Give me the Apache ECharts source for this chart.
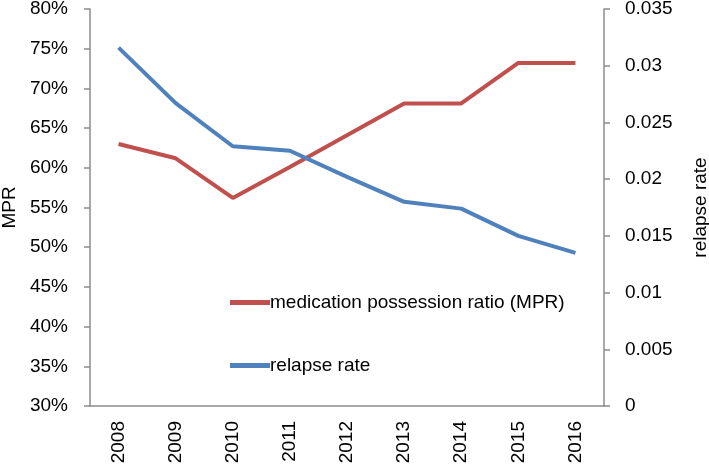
<!DOCTYPE html>
<html>
<head>
<meta charset="utf-8">
<script src="https://cdn.jsdelivr.net/npm/echarts@6/dist/echarts.min.js"></script>
<style>
  html, body { margin: 0; padding: 0; background: #fff; }
  #chart { width: 709px; height: 464px; }
</style>
</head>
<body>
<div id="chart"></div>
<script>
const years = ['2008', '2009', '2010', '2011', '2012', '2013', '2014', '2015', '2016']
const mprValues = [0.63, 0.612, 0.562, 0.601, 0.641, 0.681, 0.681, 0.732, 0.732]
const relapseValues = [0.0316, 0.0267, 0.0229, 0.0225, 0.0202, 0.0180, 0.0174, 0.0150, 0.0135]

const axisColor = '#8c8c8c'
const font = 'Liberation Sans, Arial, sans-serif'
const fs = 19

const chart = echarts.init(document.getElementById('chart'))
chart.setOption({
    animation: false,
    textStyle: { fontFamily: font },
    grid: { left: 90, right: 105, top: 9, bottom: 58, outerBoundsMode: 'none', containLabel: false },
    legend: {
        orient: 'vertical',
        left: 225,
        top: 288,
        itemGap: 44,
        itemWidth: 40,
        itemHeight: 5,
        icon: 'rect',
        textStyle: { fontSize: fs, color: '#000', fontFamily: font, padding: [0, 0, 0, -5] },
        data: ['medication possession ratio (MPR)', 'relapse rate']
    },
    xAxis: {
        type: 'category',
        data: years,
        axisLine: { lineStyle: { color: axisColor, width: 1.5 } },
        axisTick: { length: 6, lineStyle: { color: axisColor, width: 1.5 } },
        axisLabel: { rotate: 90, fontSize: fs, color: '#000', margin: 15 }
    },
    yAxis: [
        {
            type: 'value',
            min: 0.3,
            max: 0.8,
            interval: 0.05,
            name: 'MPR',
            nameLocation: 'middle',
            nameRotate: 90,
            nameGap: 71,
            nameTextStyle: { fontSize: fs, color: '#000' },
            splitLine: { show: false },
            axisLine: { show: true, lineStyle: { color: axisColor, width: 1.5 } },
            axisTick: { show: true, length: 6, lineStyle: { color: axisColor, width: 1.5 } },
            axisLabel: {
                fontSize: fs, color: '#000', margin: 22,
                formatter: v => Math.round(v * 100) + '%'
            }
        },
        {
            type: 'value',
            min: 0,
            max: 0.035,
            interval: 0.005,
            name: 'relapse rate',
            nameLocation: 'middle',
            nameRotate: 90,
            nameGap: 87,
            nameTextStyle: { fontSize: fs, color: '#000' },
            splitLine: { show: false },
            axisLine: { show: true, lineStyle: { color: axisColor, width: 1.5 } },
            axisTick: { show: true, length: 6, lineStyle: { color: axisColor, width: 1.5 } },
            axisLabel: {
                fontSize: fs, color: '#000', margin: 21,
                formatter: v => String(parseFloat(v.toFixed(3)))
            }
        }
    ],
    series: [
        {
            name: 'medication possession ratio (MPR)',
            type: 'line',
            yAxisIndex: 0,
            data: mprValues,
            symbol: 'none',
            color: '#c0504d',
            lineStyle: { width: 4, color: '#c0504d' }
        },
        {
            name: 'relapse rate',
            type: 'line',
            yAxisIndex: 1,
            data: relapseValues,
            symbol: 'none',
            color: '#4f81bd',
            lineStyle: { width: 4, color: '#4f81bd' }
        }
    ]
})
</script>
</body>
</html>
